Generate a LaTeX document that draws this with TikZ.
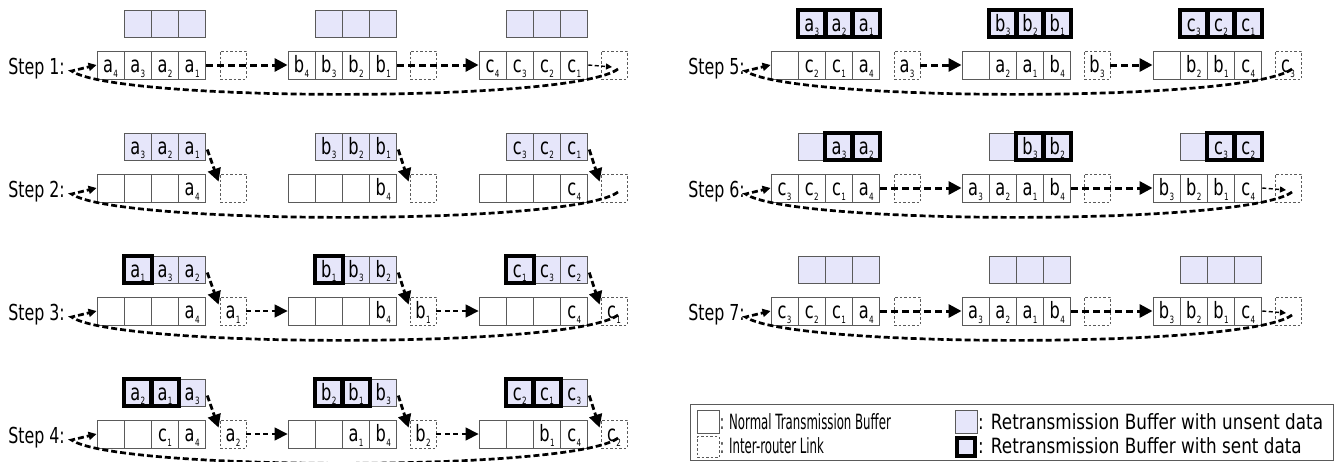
\documentclass[tikz,border=0pt]{standalone}
\usepackage{fontspec}
\setmainfont{DejaVu Sans}[FakeStretch=0.72]
\newfontfamily\legnarrow{DejaVu Sans}[FakeStretch=0.56]
\newfontfamily\legwide{DejaVu Sans}[FakeStretch=0.8]
\usetikzlibrary{arrows.meta}

\definecolor{lav}{RGB}{230,230,250}
\definecolor{bufedge}{RGB}{90,90,90}

% data item with its index as a lowered small digit
\newcommand\dl[2]{#1\kern0.4pt\raisebox{-4.5pt}{\fontsize{10}{10}\selectfont #2}}

\tikzset{
  nb/.style={draw=bufedge, line width=0.9pt, minimum width=27.2pt, minimum height=28pt,
    inner sep=0pt, text height=15pt, text depth=0pt, font=\fontsize{22.5}{22.5}\selectfont},
  rb/.style={nb, fill=lav, minimum height=27pt},
  lk/.style={nb, dash pattern=on 2.5pt off 2pt, line width=0.8pt, minimum width=26pt},
  sentbd/.style={draw=black, line width=4pt},
  flow/.style={draw=black, line width=3pt, dash pattern=on 7pt off 4pt,
    -{Triangle[length=13pt,width=13pt]}},
  thinflow/.style={draw=black, line width=1.6pt, dash pattern=on 5pt off 3.5pt,
    -{Triangle[length=13pt,width=13pt]}},
  drop/.style={draw=black, line width=2.8pt, dash pattern=on 6pt off 3pt,
    -{Triangle[length=13pt,width=13pt]}},
  ret/.style={draw=black, line width=2.7pt, dash pattern=on 6pt off 3pt,
    -{Triangle[length=8pt,width=8pt]}},
  tolink/.style={draw=black, line width=1.4pt, dash pattern=on 4pt off 2.5pt,
    -{Triangle[length=6pt,width=6pt]}},
  steplab/.style={anchor=base east, inner sep=0pt, font=\fontsize{22}{22}\selectfont},
  legtxt/.style={anchor=west, inner sep=0pt}
}

% normal transmission buffer: name, left x, centre y, four labels
\newcommand\nbuf[7]{%
  \node[nb] (#1-1) at ({#2+13.6},#3) {#4};
  \node[nb] (#1-2) at ({#2+40.8},#3) {#5};
  \node[nb] (#1-3) at ({#2+68.0},#3) {#6};
  \node[nb] (#1-4) at ({#2+95.2},#3) {#7};}
% retransmission buffer above the three rightmost cells
\newcommand\rbuf[6]{%
  \node[rb] (#1-1) at ({#2+40.8},{#3-41.5}) {#4};
  \node[rb] (#1-2) at ({#2+68.0},{#3-41.5}) {#5};
  \node[rb] (#1-3) at ({#2+95.2},{#3-41.5}) {#6};}
% heavy outline of a retransmission cell holding sent data
\newcommand\sentcell[1]{\draw[sentbd] (#1.south west) rectangle (#1.north east);}
% inter-router link: name, left x, centre y, label
\newcommand\link[4]{\node[lk] (#1) at ({#2+13},#3) {#4};}
% return path from the last link back to the first router
\newcommand\retpath[2]{\draw[ret] ([shift={(4,4)}]#1.center) .. controls +(-45,34) and +(45,31) .. ([shift={(-25,6)}]#2.west) -- (#2.west);}

\begin{document}
\begin{tikzpicture}[x=1pt,y=-1pt]
\useasboundingbox (0,0) rectangle (1335,461);

% ---------------- Step 1 ----------------
\node[steplab] (t1) at (65,74) {Step 1:};
\rbuf{s1ra}{97}{65}{}{}{}
\rbuf{s1rb}{288}{65}{}{}{}
\rbuf{s1rc}{479}{65}{}{}{}
\nbuf{s1a}{97}{65}{\dl a4}{\dl a3}{\dl a2}{\dl a1}
\nbuf{s1b}{288}{65}{\dl b4}{\dl b3}{\dl b2}{\dl b1}
\nbuf{s1c}{479}{65}{\dl c4}{\dl c3}{\dl c2}{\dl c1}
\link{s1la}{220}{65}{}
\link{s1lb}{410}{65}{}
\link{s1lc}{601}{65}{}
\draw[flow] (s1a-4.east) -- (s1b-1.west);
\draw[flow] (s1b-4.east) -- (s1c-1.west);
\draw[tolink] (s1c-4.east) -- ([shift={(-2,2)}]s1lc.center);
\retpath{s1lc}{s1a-1}

% ---------------- Step 2 ----------------
\node[steplab] (t2) at (65,197) {Step 2:};
\rbuf{s2ra}{97}{188}{\dl a3}{\dl a2}{\dl a1}
\rbuf{s2rb}{288}{188}{\dl b3}{\dl b2}{\dl b1}
\rbuf{s2rc}{479}{188}{\dl c3}{\dl c2}{\dl c1}
\nbuf{s2a}{97}{188}{}{}{}{\dl a4}
\nbuf{s2b}{288}{188}{}{}{}{\dl b4}
\nbuf{s2c}{479}{188}{}{}{}{\dl c4}
\link{s2la}{220}{188}{}
\link{s2lb}{410}{188}{}
\link{s2lc}{601}{188}{}
\draw[drop] ([shift={(1,3)}]s2ra-3.east) -- ([shift={(-1,8)}]s2la.north west);
\draw[drop] ([shift={(1,3)}]s2rb-3.east) -- ([shift={(-1,8)}]s2lb.north west);
\draw[drop] ([shift={(1,3)}]s2rc-3.east) -- ([shift={(-1,8)}]s2lc.north west);
\retpath{s2lc}{s2a-1}

% ---------------- Step 3 ----------------
\node[steplab] (t3) at (65,320) {Step 3:};
\rbuf{s3ra}{97}{311}{\dl a1}{\dl a3}{\dl a2}
\rbuf{s3rb}{288}{311}{\dl b1}{\dl b3}{\dl b2}
\rbuf{s3rc}{479}{311}{\dl c1}{\dl c3}{\dl c2}
\sentcell{s3ra-1}\sentcell{s3rb-1}\sentcell{s3rc-1}
\nbuf{s3a}{97}{311}{}{}{}{\dl a4}
\nbuf{s3b}{288}{311}{}{}{}{\dl b4}
\nbuf{s3c}{479}{311}{}{}{}{\dl c4}
\link{s3la}{220}{311}{\dl a1}
\link{s3lb}{410}{311}{\dl b1}
\link{s3lc}{601}{311}{\dl c1}
\draw[drop] ([shift={(1,3)}]s3ra-3.east) -- ([shift={(-1,8)}]s3la.north west);
\draw[drop] ([shift={(1,3)}]s3rb-3.east) -- ([shift={(-1,8)}]s3lb.north west);
\draw[drop] ([shift={(1,3)}]s3rc-3.east) -- ([shift={(-1,8)}]s3lc.north west);
\draw[thinflow] (s3la.east) -- (s3b-1.west);
\draw[thinflow] (s3lb.east) -- (s3c-1.west);
\retpath{s3lc}{s3a-1}

% ---------------- Step 4 ----------------
\node[steplab] (t4) at (65,443) {Step 4:};
\rbuf{s4ra}{97}{434}{\dl a2}{\dl a1}{\dl a3}
\rbuf{s4rb}{288}{434}{\dl b2}{\dl b1}{\dl b3}
\rbuf{s4rc}{479}{434}{\dl c2}{\dl c1}{\dl c3}
\sentcell{s4ra-1}\sentcell{s4ra-2}
\sentcell{s4rb-1}\sentcell{s4rb-2}
\sentcell{s4rc-1}\sentcell{s4rc-2}
\nbuf{s4a}{97}{434}{}{}{\dl c1}{\dl a4}
\nbuf{s4b}{288}{434}{}{}{\dl a1}{\dl b4}
\nbuf{s4c}{479}{434}{}{}{\dl b1}{\dl c4}
\link{s4la}{220}{434}{\dl a2}
\link{s4lb}{410}{434}{\dl b2}
\link{s4lc}{601}{434}{\dl c2}
\draw[drop] ([shift={(1,3)}]s4ra-3.east) -- ([shift={(-1,8)}]s4la.north west);
\draw[drop] ([shift={(1,3)}]s4rb-3.east) -- ([shift={(-1,8)}]s4lb.north west);
\draw[drop] ([shift={(1,3)}]s4rc-3.east) -- ([shift={(-1,8)}]s4lc.north west);
\draw[thinflow] (s4la.east) -- (s4b-1.west);
\draw[thinflow] (s4lb.east) -- (s4c-1.west);
\retpath{s4lc}{s4a-1}

% ---------------- Step 5 ----------------
\node[steplab] (t5) at (745,74) {Step 5:};
\rbuf{s5ra}{771}{65}{\dl a3}{\dl a2}{\dl a1}
\rbuf{s5rb}{962}{65}{\dl b3}{\dl b2}{\dl b1}
\rbuf{s5rc}{1153}{65}{\dl c3}{\dl c2}{\dl c1}
\sentcell{s5ra-1}\sentcell{s5ra-2}\sentcell{s5ra-3}
\sentcell{s5rb-1}\sentcell{s5rb-2}\sentcell{s5rb-3}
\sentcell{s5rc-1}\sentcell{s5rc-2}\sentcell{s5rc-3}
\nbuf{s5a}{771}{65}{}{\dl c2}{\dl c1}{\dl a4}
\nbuf{s5b}{962}{65}{}{\dl a2}{\dl a1}{\dl b4}
\nbuf{s5c}{1153}{65}{}{\dl b2}{\dl b1}{\dl c4}
\link{s5la}{894}{65}{\dl a3}
\link{s5lb}{1084}{65}{\dl b3}
\link{s5lc}{1275}{65}{\dl c3}
\draw[flow] (s5la.east) -- (s5b-1.west);
\draw[flow] (s5lb.east) -- (s5c-1.west);
\retpath{s5lc}{s5a-1}

% ---------------- Step 6 ----------------
\node[steplab] (t6) at (745,197) {Step 6:};
\rbuf{s6ra}{771}{188}{}{\dl a3}{\dl a2}
\rbuf{s6rb}{962}{188}{}{\dl b3}{\dl b2}
\rbuf{s6rc}{1153}{188}{}{\dl c3}{\dl c2}
\sentcell{s6ra-2}\sentcell{s6ra-3}
\sentcell{s6rb-2}\sentcell{s6rb-3}
\sentcell{s6rc-2}\sentcell{s6rc-3}
\nbuf{s6a}{771}{188}{\dl c3}{\dl c2}{\dl c1}{\dl a4}
\nbuf{s6b}{962}{188}{\dl a3}{\dl a2}{\dl a1}{\dl b4}
\nbuf{s6c}{1153}{188}{\dl b3}{\dl b2}{\dl b1}{\dl c4}
\link{s6la}{894}{188}{}
\link{s6lb}{1084}{188}{}
\link{s6lc}{1275}{188}{}
\draw[flow] (s6a-4.east) -- (s6b-1.west);
\draw[flow] (s6b-4.east) -- (s6c-1.west);
\draw[tolink] (s6c-4.east) -- ([shift={(-2,2)}]s6lc.center);
\retpath{s6lc}{s6a-1}

% ---------------- Step 7 ----------------
\node[steplab] (t7) at (745,320) {Step 7:};
\rbuf{s7ra}{771}{311}{}{}{}
\rbuf{s7rb}{962}{311}{}{}{}
\rbuf{s7rc}{1153}{311}{}{}{}
\nbuf{s7a}{771}{311}{\dl c3}{\dl c2}{\dl c1}{\dl a4}
\nbuf{s7b}{962}{311}{\dl a3}{\dl a2}{\dl a1}{\dl b4}
\nbuf{s7c}{1153}{311}{\dl b3}{\dl b2}{\dl b1}{\dl c4}
\link{s7la}{894}{311}{}
\link{s7lb}{1084}{311}{}
\link{s7lc}{1275}{311}{}
\draw[flow] (s7a-4.east) -- (s7b-1.west);
\draw[flow] (s7b-4.east) -- (s7c-1.west);
\draw[tolink] (s7c-4.east) -- ([shift={(-2,2)}]s7lc.center);
\retpath{s7lc}{s7a-1}

% ---------------- Legend ----------------
\draw[draw=bufedge, line width=0.9pt] (690,404) rectangle (1333,460.5);
\node[nb, minimum width=22pt, minimum height=23pt] (lg1) at (708,422) {};
\node[legtxt, font=\legnarrow\fontsize{21}{21}\selectfont] (lg1t) at (720,422) {: Normal Transmission Buffer};
\node[rb, minimum width=22pt, minimum height=23pt] (lg2) at (966,422) {};
\node[legtxt, font=\legwide\fontsize{21}{21}\selectfont] (lg2t) at (978,422) {: Retransmission Buffer with unsent data};
\node[lk, minimum width=22pt, minimum height=21pt] (lg3) at (708,447) {};
\node[legtxt, font=\legnarrow\fontsize{21}{21}\selectfont] (lg3t) at (720,446) {: Inter-router Link};
\node[rb, minimum width=18pt, minimum height=18pt] (lg4) at (966,447) {};
\sentcell{lg4}
\node[legtxt, font=\legwide\fontsize{21}{21}\selectfont] (lg4t) at (978,446) {: Retransmission Buffer with sent data};
\end{tikzpicture}
\end{document}
